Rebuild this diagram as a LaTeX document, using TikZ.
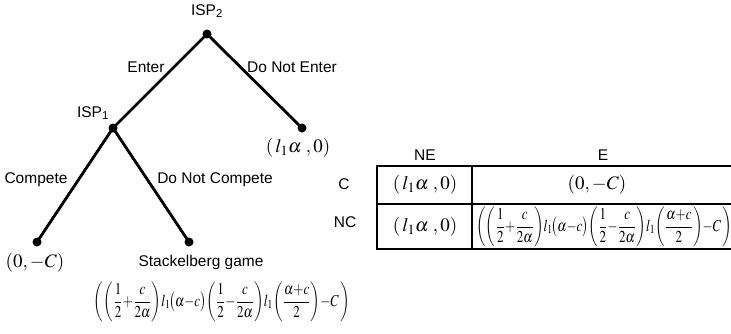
\documentclass[tikz,border=0pt]{standalone}
\usepackage{mathptmx}
\usepackage{graphicx}
\usepackage[no-math]{fontspec}
\setsansfont{Liberation Sans}
\newcommand{\bigformula}{\resizebox*{256pt}{40pt}{$\displaystyle\left(\vphantom{\frac{1}{2}}\right.\!\!\left(\frac{1}{2}{+}\frac{c}{2\alpha}\right)\!l_1\!\bigl(\alpha{-}c\bigr)\!\left(\frac{1}{2}{-}\frac{c}{2\alpha}\right)\!l_1\!\left(\frac{\alpha{+}c}{2}\right)\!{-}C\!\left.\vphantom{\frac{1}{2}}\right)$}}
\tikzset{
  dot/.style={circle,fill=black,inner sep=0pt,minimum size=9pt},
  lbl/.style={font=\sffamily\fontsize{15.5}{18}\selectfont,inner sep=0pt},
  pay/.style={font=\fontsize{19}{22}\selectfont,inner sep=0pt},
  branch/.style={line width=2.8pt},
  gridline/.style={line width=1.2pt}
}
\begin{document}
\begin{tikzpicture}[x=1pt,y=-1pt]
\useasboundingbox (0,0) rectangle (731,333);
\clip (0,0) rectangle (731,333);
% tree
\node[dot] (r) at (207,34) {};
\node[dot] (p1) at (113,128) {};
\node[dot] (ne) at (302,128) {};
\node[dot] (cc) at (37,242) {};
\node[dot] (nc) at (189,242) {};
\draw[branch] (r.center) -- (p1.center);
\draw[branch] (r.center) -- (ne.center);
\draw[branch] (p1.center) -- (cc.center);
\draw[branch] (p1.center) -- (nc.center);
\node[lbl] (isp2) at (207,11) {ISP\textsubscript{2}};
\node[lbl] (lenter) at (146,67) {Enter};
\node[lbl] (ldne) at (292,67) {Do Not Enter};
\node[lbl] (isp1) at (93,113) {ISP\textsubscript{1}};
\node[lbl] (lcomp) at (36,180) {Compete};
\node[lbl] (ldnc) at (215,180) {Do Not Compete};
\node[lbl] (lstack) at (201,262) {Stackelberg game};
\node[pay] (pne) at (298,148) {$\left(\,l_1\alpha\;,0\right)$};
\node[pay] (pcc) at (35,263) {$\left(0,-C\right)$};
\node[inner sep=0pt] (pnc) at (222,302) {\bigformula};
% table
\draw[gridline] (377,166) rectangle (745,249);
\draw[gridline] (472,166) -- (472,249);
\draw[gridline] (377,204) -- (745,204);
\node[lbl] (hne) at (425,155) {NE};
\node[lbl] (he) at (603,155) {E};
\node[lbl] (rc) at (344,184) {C};
\node[lbl] (rnc) at (345,222) {NC};
\node[pay] (t11) at (425,185) {$\left(\,l_1\alpha\;,0\right)$};
\node[pay] (t12) at (597,185) {$\left(0,-C\right)$};
\node[pay] (t21) at (425,227) {$\left(\,l_1\alpha\;,0\right)$};
\node[inner sep=0pt,anchor=west] (t22) at (476,227) {\bigformula};
\end{tikzpicture}
\end{document}
